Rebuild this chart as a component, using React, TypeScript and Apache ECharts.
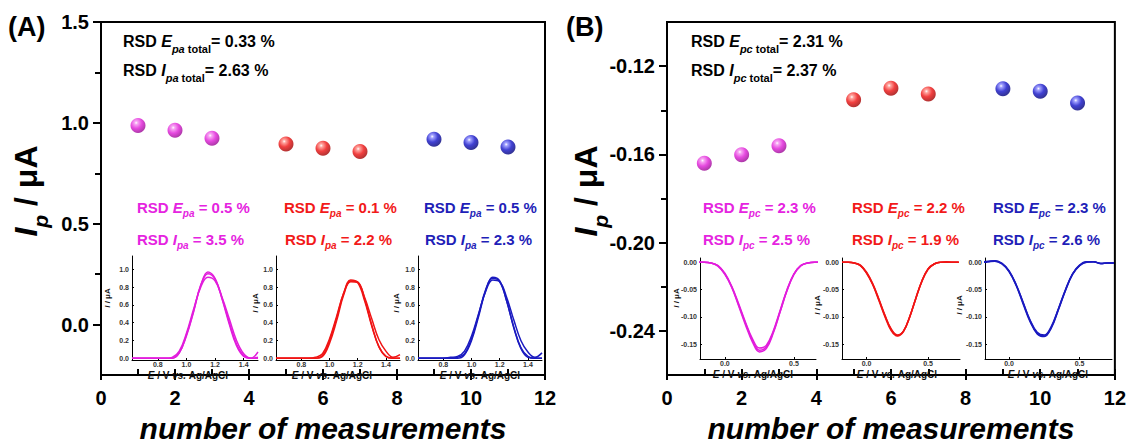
import React, { useEffect, useRef } from "react";
import * as echarts from "echarts";

// ---------- data ----------
const measMagenta = [1, 2, 3];
const measRed = [5, 6, 7];
const measBlue = [9, 10, 11];

const ipaMagenta = [0.987, 0.963, 0.924];
const ipaRed = [0.895, 0.874, 0.858];
const ipaBlue = [0.919, 0.903, 0.88];

const ipcMagenta = [-0.164, -0.1601, -0.1561];
const ipcRed = [-0.1352, -0.13, -0.1326];
const ipcBlue = [-0.1302, -0.1314, -0.1367];

const xTicks = [0, 1, 2, 3, 4, 5, 6, 7, 8, 9, 10, 11, 12];
const xLabels = [0, 2, 4, 6, 8, 10, 12];
const yLabelsA = [0, 0.5, 1.0, 1.5];
const yMinorA = [0.25, 0.75, 1.25];
const yLabelsB = [-0.24, -0.2, -0.16, -0.12];
const yMinorB = [-0.22, -0.18, -0.14];

// inset (anodic) voltammograms
const potA = [0.62, 0.7, 0.8, 0.85, 0.9, 0.95, 1.0, 1.05, 1.1, 1.15, 1.2, 1.25, 1.3, 1.35, 1.4, 1.45, 1.5];
const curMag1 = [0, 0, 0, 0, 0, 0.06, 0.25, 0.52, 0.82, 0.97, 0.9, 0.66, 0.38, 0.14, 0.02, 0, 0];
const curMag2 = [0, 0, 0, 0, 0, 0.06, 0.26, 0.53, 0.82, 0.95, 0.89, 0.67, 0.4, 0.16, 0.03, 0, 0.01];
const curMag3 = [0, 0, 0, 0, 0.01, 0.08, 0.28, 0.55, 0.8, 0.91, 0.87, 0.68, 0.44, 0.2, 0.05, 0, 0.07];
const curRed1 = [0, 0, 0, 0, 0, 0.02, 0.17, 0.42, 0.71, 0.87, 0.86, 0.66, 0.37, 0.13, 0.02, 0, 0];
const curRed2 = [0, 0, 0, 0, 0, 0.03, 0.2, 0.45, 0.73, 0.88, 0.85, 0.64, 0.36, 0.13, 0.02, 0, 0];
const curRed3 = [0, 0, 0, 0, 0.01, 0.05, 0.22, 0.47, 0.73, 0.86, 0.85, 0.68, 0.44, 0.21, 0.08, 0.01, 0.04];
const curBlue1 = [0, 0, 0, 0, 0, 0.04, 0.2, 0.47, 0.76, 0.91, 0.87, 0.64, 0.34, 0.11, 0.01, 0, 0];
const curBlue2 = [0, 0, 0, 0, 0.01, 0.05, 0.22, 0.49, 0.77, 0.9, 0.86, 0.64, 0.35, 0.12, 0.02, 0, 0];
const curBlue3 = [0, 0, 0, 0.01, 0.02, 0.08, 0.25, 0.5, 0.75, 0.88, 0.86, 0.68, 0.43, 0.2, 0.07, 0.01, 0.06];

// inset (cathodic) voltammograms
const potC = [-0.2, -0.15, -0.1, -0.05, 0, 0.05, 0.1, 0.15, 0.2, 0.25, 0.3, 0.35, 0.4, 0.45, 0.5, 0.55, 0.6, 0.65, 0.7, 0.75];
const cMag1 = [0, 0, -0.001, -0.006, -0.02, -0.044, -0.076, -0.11, -0.14, -0.157, -0.152, -0.126, -0.088, -0.05, -0.021, -0.006, -0.001, 0, 0, 0];
const cMag2 = [0, 0, -0.001, -0.006, -0.021, -0.045, -0.078, -0.112, -0.143, -0.161, -0.155, -0.128, -0.09, -0.051, -0.022, -0.006, -0.001, 0, 0, 0];
const cMag3 = [0, 0, -0.001, -0.007, -0.022, -0.046, -0.08, -0.115, -0.146, -0.164, -0.158, -0.13, -0.091, -0.052, -0.022, -0.006, -0.001, 0, 0, 0];
const cRed1 = [0, 0, -0.001, -0.006, -0.019, -0.04, -0.068, -0.098, -0.123, -0.134, -0.126, -0.1, -0.066, -0.034, -0.012, -0.003, 0, 0, 0, 0];
const cRed2 = [0, 0, -0.001, -0.006, -0.02, -0.041, -0.07, -0.1, -0.125, -0.135, -0.127, -0.1, -0.066, -0.034, -0.012, -0.003, 0, 0, 0, 0];
const cRed3 = [0, 0, -0.001, -0.005, -0.018, -0.039, -0.067, -0.097, -0.122, -0.133, -0.126, -0.101, -0.067, -0.035, -0.013, -0.003, 0, 0.001, 0, 0];
const cBlue1 = [0, 0.001, 0.003, -0.002, -0.015, -0.04, -0.073, -0.106, -0.128, -0.133, -0.117, -0.085, -0.05, -0.021, -0.005, 0.001, 0.001, -0.002, -0.001, -0.001];
const cBlue2 = [0, 0.001, 0.002, -0.003, -0.017, -0.042, -0.076, -0.109, -0.131, -0.136, -0.12, -0.087, -0.052, -0.022, -0.006, 0.001, 0.001, -0.002, -0.001, -0.001];
const cBlue3 = [0, 0.002, 0.003, -0.002, -0.016, -0.041, -0.074, -0.107, -0.13, -0.135, -0.119, -0.086, -0.051, -0.022, -0.006, 0, 0.001, -0.002, -0.001, -0.001];

const insetLabelsAX = [0.8, 1.0, 1.2, 1.4];
const insetLabelsAY = [0, 0.2, 0.4, 0.6, 0.8, 1.0];
const insetLabelsBX = [0, 0.5];
const insetLabelsBY = [0, -0.05, -0.1, -0.15];

// ---------- styles ----------
const FONT = '"Liberation Sans", Arial, Helvetica, sans-serif';
const MAG = "#e21ddc";
const RED = "#f01414";
const BLUE = "#1a1ac0";
const MAG_T = "#e524e0";
const RED_T = "#f21a1a";
const BLUE_T = "#1f1fb8";

function sphere(light: string, base: string, dark: string) {
  return new echarts.graphic.RadialGradient(0.38, 0.32, 0.68, [
    { offset: 0, color: "#ffffff" },
    { offset: 0.16, color: light },
    { offset: 0.55, color: base },
    { offset: 1, color: dark },
  ]);
}

function rt(size: number, color: string) {
  const s = Math.round(size * 0.66);
  const lhN = size + 2;
  const lhS = s;
  const subCenter = lhN / 2 + 0.35 * size + 0.17 * s;
  const Q = Math.round(subCenter - lhS / 2);
  const P = Math.max(0, Q + lhS - lhN);
  const base = { fontFamily: FONT, fontWeight: "bold", fill: color, color };
  return {
    n: { ...base, fontSize: size, lineHeight: lhN, padding: [0, 0, P, 0] },
    i: { ...base, fontSize: size, fontStyle: "italic", lineHeight: lhN, padding: [0, 0, P, 0] },
    si: { ...base, fontSize: s, fontStyle: "italic", lineHeight: lhS, padding: [Q, 0, 0, 0] },
    su: { ...base, fontSize: s, lineHeight: lhS, padding: [Q, 0, 0, 0] },
  };
}

function txt(x: number, y: number, text: string, size: number, color: string, extra: any = {}, align = "left", valign = "top") {
  return {
    type: "text",
    x,
    y,
    z: 100,
    style: {
      text,
      rich: rt(size, color),
      fill: color,
      font: `bold ${size}px ${FONT}`,
      textAlign: align,
      align,
      textVerticalAlign: valign,
      verticalAlign: valign,
    },
    ...extra,
  };
}

const ax = { color: "#000", width: 2 };
const axThin = { color: "#000", width: 1 };

function mainX(grid: number, name: string) {
  return [
    {
      gridIndex: grid,
      type: "value",
      position: "bottom",
      min: 0,
      max: 12,
      axisLine: { show: true, onZero: false, lineStyle: ax },
      axisTick: { show: true, inside: true, length: 6, lineStyle: ax, customValues: xTicks },
      axisLabel: { customValues: xLabels, fontSize: 20, fontWeight: "bold", color: "#000", fontFamily: FONT, margin: 13 },
      splitLine: { show: false },
      name,
      nameLocation: "middle",
      nameGap: 37,
      nameTextStyle: { fontSize: 30, fontWeight: "bold", fontStyle: "italic", color: "#000", fontFamily: FONT },
    },
    {
      gridIndex: grid,
      type: "value",
      position: "bottom",
      min: 0,
      max: 12,
      axisLine: { show: false, onZero: false },
      axisTick: { show: true, inside: false, length: 5, lineStyle: ax, customValues: xLabels },
      axisLabel: { show: false },
      splitLine: { show: false },
    },
  ];
}

function mainY(grid: number, min: number, max: number, labels: number[], minor: number[], dec: number) {
  return [
    {
      gridIndex: grid,
      type: "value",
      position: "left",
      min,
      max,
      axisLine: { show: true, onZero: false, lineStyle: ax },
      axisTick: { show: true, inside: false, length: 8, lineStyle: ax, customValues: labels },
      axisLabel: {
        customValues: labels,
        formatter: (v: number) => v.toFixed(dec),
        fontSize: 20,
        fontWeight: "bold",
        color: "#000",
        fontFamily: FONT,
        margin: 12,
      },
      splitLine: { show: false },
    },
    {
      gridIndex: grid,
      type: "value",
      position: "left",
      min,
      max,
      axisLine: { show: false, onZero: false },
      axisTick: { show: true, inside: false, length: 6, lineStyle: ax, customValues: minor },
      axisLabel: { show: false },
      splitLine: { show: false },
    },
  ];
}

function insetX(grid: number, min: number, max: number, labels: number[]) {
  return {
    gridIndex: grid,
    type: "value",
    position: "bottom",
    min,
    max,
    axisLine: { show: true, onZero: false, lineStyle: axThin },
    axisTick: { show: true, inside: true, length: 2, lineStyle: axThin, customValues: labels },
    axisLabel: { customValues: labels, formatter: (v: number) => v.toFixed(1), fontSize: 7, fontWeight: "bold", color: "#333", fontFamily: FONT, margin: 1 },
    splitLine: { show: false },
  };
}

function insetY(grid: number, min: number, max: number, labels: number[], dec: number) {
  return {
    gridIndex: grid,
    type: "value",
    position: "left",
    min,
    max,
    axisLine: { show: true, onZero: false, lineStyle: axThin },
    axisTick: { show: true, inside: true, length: 2, lineStyle: axThin, customValues: labels },
    axisLabel: { customValues: labels, formatter: (v: number) => v.toFixed(dec), fontSize: 7, fontWeight: "bold", color: "#333", fontFamily: FONT, margin: 3 },
    splitLine: { show: false },
  };
}

function scatter(xi: number, yi: number, xs: number[], ys: number[], grad: any) {
  return {
    type: "scatter",
    xAxisIndex: xi,
    yAxisIndex: yi,
    data: xs.map((x, i) => [x, ys[i]]),
    symbolSize: 15,
    itemStyle: { color: grad },
    z: 5,
  };
}

function curve(xi: number, yi: number, xs: number[], ys: number[], color: string) {
  return {
    type: "line",
    xAxisIndex: xi,
    yAxisIndex: yi,
    data: xs.map((x, i) => [x, ys[i]]),
    symbol: "none",
    showSymbol: false,
    smooth: 0.4,
    clip: true,
    lineStyle: { color, width: 1.5 },
    z: 3,
  };
}

export default function App() {
  const ref = useRef<HTMLDivElement>(null);

  useEffect(() => {
    if (!ref.current) return;
    const chart = echarts.init(ref.current, undefined, { renderer: "svg" });

    const gMag = sphere("#f590f0", "#e01cd8", "#9a0894");
    const gRed = sphere("#ff9088", "#ee1010", "#a00000");
    const gBlue = sphere("#8a8aff", "#1212c8", "#00007a");

    const grids = [
      { left: 101, top: 22, width: 444, height: 361, show: true, borderColor: "#000", borderWidth: 2, backgroundColor: "transparent" },
      { left: 667, top: 22, width: 449, height: 361, show: true, borderColor: "#000", borderWidth: 2, backgroundColor: "transparent" },
      { left: 132, top: 256, width: 126, height: 104 },
      { left: 276, top: 256, width: 124, height: 104 },
      { left: 418, top: 256, width: 124, height: 104 },
      { left: 700, top: 258, width: 116, height: 101 },
      { left: 842, top: 258, width: 118, height: 101 },
      { left: 985, top: 258, width: 127, height: 101 },
    ];

    const xAxes = [
      ...mainX(0, "number of measurements"),
      ...mainX(1, "number of measurements"),
      insetX(2, 0.62, 1.5, insetLabelsAX),
      insetX(3, 0.62, 1.5, insetLabelsAX),
      insetX(4, 0.62, 1.5, insetLabelsAX),
      insetX(5, -0.18, 0.66, insetLabelsBX),
      insetX(6, -0.2, 0.76, insetLabelsBX),
      insetX(7, -0.17, 0.73, insetLabelsBX),
    ];
    const yAxes = [
      ...mainY(0, -0.25, 1.5, yLabelsA, yMinorA, 1),
      ...mainY(1, -0.26, -0.1, yLabelsB, yMinorB, 2),
      insetY(2, -0.02, 1.15, insetLabelsAY, 1),
      insetY(3, -0.02, 1.15, insetLabelsAY, 1),
      insetY(4, -0.02, 1.15, insetLabelsAY, 1),
      insetY(5, -0.177, 0.008, insetLabelsBY, 2),
      insetY(6, -0.177, 0.008, insetLabelsBY, 2),
      insetY(7, -0.177, 0.008, insetLabelsBY, 2),
    ];

    const series = [
      scatter(0, 0, measMagenta, ipaMagenta, gMag),
      scatter(0, 0, measRed, ipaRed, gRed),
      scatter(0, 0, measBlue, ipaBlue, gBlue),
      scatter(2, 2, measMagenta, ipcMagenta, gMag),
      scatter(2, 2, measRed, ipcRed, gRed),
      scatter(2, 2, measBlue, ipcBlue, gBlue),
      curve(4, 4, potA, curMag1, MAG),
      curve(4, 4, potA, curMag2, MAG),
      curve(4, 4, potA, curMag3, MAG),
      curve(5, 5, potA, curRed1, RED),
      curve(5, 5, potA, curRed2, RED),
      curve(5, 5, potA, curRed3, RED),
      curve(6, 6, potA, curBlue1, BLUE),
      curve(6, 6, potA, curBlue2, BLUE),
      curve(6, 6, potA, curBlue3, BLUE),
      curve(7, 7, potC, cMag1, MAG),
      curve(7, 7, potC, cMag2, MAG),
      curve(7, 7, potC, cMag3, MAG),
      curve(8, 8, potC, cRed1, RED),
      curve(8, 8, potC, cRed2, RED),
      curve(8, 8, potC, cRed3, RED),
      curve(9, 9, potC, cBlue1, BLUE),
      curve(9, 9, potC, cBlue2, BLUE),
      curve(9, 9, potC, cBlue3, BLUE),
    ];

    const rot = Math.PI / 2;
    const insetETitle = "{i|E}{n| / V }{i|vs.}{n| Ag/AgCl}";
    const insetITitle = "{i|I}{n| / μA}";
    const graphic = [
      { type: "text", x: 8, y: 27, z: 100, style: { text: "(A)", font: `bold 27px ${FONT}`, fill: "#000", textVerticalAlign: "middle", verticalAlign: "middle" } },
      { type: "text", x: 566, y: 27, z: 100, style: { text: "(B)", font: `bold 27px ${FONT}`, fill: "#000", textVerticalAlign: "middle", verticalAlign: "middle" } },
      txt(13, 191, "{i|I}{si|p}{n| / μA}", 32, "#000", { rotation: rot }, "center", "top"),
      txt(573, 191, "{i|I}{si|p}{n| / μA}", 32, "#000", { rotation: rot }, "center", "top"),
      txt(123, 34, "{n|RSD }{i|E}{si|pa }{su|total}{n|= 0.33 %}", 16, "#000"),
      txt(123, 63, "{n|RSD }{i|I}{si|pa }{su|total}{n|= 2.63 %}", 16, "#000"),
      txt(691, 34, "{n|RSD }{i|E}{si|pc }{su|total}{n|= 2.31 %}", 16, "#000"),
      txt(691, 63, "{n|RSD }{i|I}{si|pc }{su|total}{n|= 2.37 %}", 16, "#000"),
      txt(137, 200, "{n|RSD }{i|E}{si|pa}{n| = 0.5 %}", 15, MAG_T),
      txt(137, 232, "{n|RSD }{i|I}{si|pa}{n| = 3.5 %}", 15, MAG_T),
      txt(284, 200, "{n|RSD }{i|E}{si|pa}{n| = 0.1 %}", 15, RED_T),
      txt(285, 232, "{n|RSD }{i|I}{si|pa}{n| = 2.2 %}", 15, RED_T),
      txt(424, 200, "{n|RSD }{i|E}{si|pa}{n| = 0.5 %}", 15, BLUE_T),
      txt(425, 232, "{n|RSD }{i|I}{si|pa}{n| = 2.3 %}", 15, BLUE_T),
      txt(703, 200, "{n|RSD }{i|E}{si|pc}{n| = 2.3 %}", 15, MAG_T),
      txt(703, 232, "{n|RSD }{i|I}{si|pc}{n| = 2.5 %}", 15, MAG_T),
      txt(852, 200, "{n|RSD }{i|E}{si|pc}{n| = 2.2 %}", 15, RED_T),
      txt(852, 232, "{n|RSD }{i|I}{si|pc}{n| = 1.9 %}", 15, RED_T),
      txt(993, 200, "{n|RSD }{i|E}{si|pc}{n| = 2.3 %}", 15, BLUE_T),
      txt(993, 232, "{n|RSD }{i|I}{si|pc}{n| = 2.6 %}", 15, BLUE_T),
      // inset axis titles
      txt(188, 376, insetETitle, 10, "#111", {}, "center", "middle"),
      txt(332, 376, insetETitle, 10, "#111", {}, "center", "middle"),
      txt(480, 376, insetETitle, 10, "#111", {}, "center", "middle"),
      txt(753, 375, insetETitle, 10, "#111", {}, "center", "middle"),
      txt(897, 375, insetETitle, 10, "#111", {}, "center", "middle"),
      txt(1048, 375, insetETitle, 10, "#111", {}, "center", "middle"),
      txt(108, 298, insetITitle, 8, "#111", { rotation: rot }, "center", "middle"),
      txt(256, 303, insetITitle, 8, "#111", { rotation: rot }, "center", "middle"),
      txt(397, 303, insetITitle, 8, "#111", { rotation: rot }, "center", "middle"),
      txt(677, 298, insetITitle, 8, "#111", { rotation: rot }, "center", "middle"),
      txt(818, 305, insetITitle, 8, "#111", { rotation: rot }, "center", "middle"),
      txt(960, 305, insetITitle, 8, "#111", { rotation: rot }, "center", "middle"),
    ];

    chart.setOption({
      animation: false,
      backgroundColor: "#ffffff",
      grid: grids,
      xAxis: xAxes,
      yAxis: yAxes,
      series,
      graphic,
    });

    return () => {
      chart.dispose();
    };
  }, []);

  return (
    <div
      ref={ref}
      style={{ position: "fixed", left: 0, top: 0, width: 1129, height: 448, background: "#fff" }}
    />
  );
}
